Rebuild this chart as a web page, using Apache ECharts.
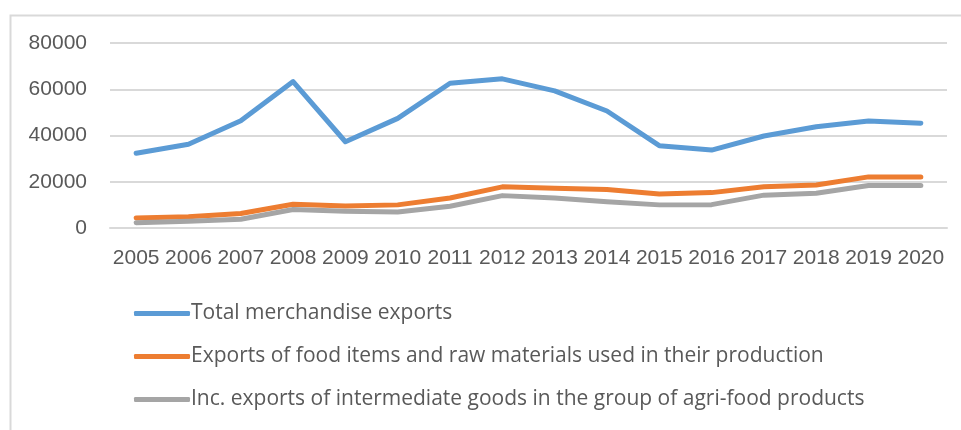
<!DOCTYPE html>
<html>
<head>
<meta charset="utf-8">
<script src="https://cdn.jsdelivr.net/npm/echarts@6/dist/echarts.min.js"></script>
<style>
  html, body { margin: 0; padding: 0; background: #fff; }
  #chartExports { width: 961px; height: 430px; }
</style>
</head>
<body>
<div id="chartExports"></div>
<script>
// ---- data ----
var years = ['2005', '2006', '2007', '2008', '2009', '2010', '2011', '2012',
    '2013', '2014', '2015', '2016', '2017', '2018', '2019', '2020'];
var totalExports = [32300, 36200, 46400, 63300, 37300, 47400, 62600, 64500,
    59300, 50600, 35600, 33700, 39800, 43800, 46300, 45300];
var foodExports = [4300, 4900, 6300, 10300, 9500, 10000, 13000, 17800,
    17200, 16600, 14700, 15300, 17800, 18600, 22100, 22100];
var agriIntermediate = [2300, 2900, 3800, 8000, 7200, 6900, 9400, 14000,
    13000, 11400, 10000, 10100, 14200, 15000, 18400, 18400];
var seriesNames = ['Total merchandise exports',
    'Exports of food items and raw materials used in their production',
    'Inc. exports of intermediate goods in the group of agri-food products'];
var yTicks = { min: 0, max: 80000, interval: 20000 };

function renderExports() {
    var dom = document.getElementById('chartExports');
    var myChart = echarts.init(dom);
    var font = 'Liberation Sans';

    function lineSeries(name, color, data) {
        return {
            name: name,
            type: 'line',
            showSymbol: false,
            symbol: 'none',
            lineStyle: { width: 5, color: color, cap: 'round', join: 'round' },
            itemStyle: { color: color },
            emphasis: { disabled: true },
            data: data
        };
    }

    var option = {
        backgroundColor: '#fff',
        animation: false,
        color: ['#5b9bd5', '#ed7d31', '#a5a5a5'],
        // chart frame (top and left edge visible)
        graphic: [{
            type: 'rect',
            left: 8,
            top: 13,
            shape: { width: 1000, height: 500 },
            style: { fill: 'none', stroke: '#d9d9d9', lineWidth: 2 },
            silent: true
        }],
        legend: {
            orient: 'vertical',
            left: 129,
            top: 298,
            itemWidth: 56,
            itemHeight: 5,
            itemGap: 22,
            icon: 'roundRect',
            textStyle: {
                fontFamily: 'Open Sans',
                fontSize: 21,
                color: '#595959',
                padding: [0, 0, 0, -4]
            },
            data: seriesNames
        },
        grid: {
            left: 110,
            right: 14,
            top: 43,
            bottom: 202,
            containLabel: false
        },
        xAxis: [{
            type: 'category',
            boundaryGap: true,
            data: years,
            axisLine: { show: true, lineStyle: { color: '#d9d9d9', width: 2 } },
            axisTick: { show: false },
            axisLabel: {
                fontFamily: font,
                fontSize: 21,
                color: '#595959',
                margin: 20,
                interval: 0
            }
        }],
        yAxis: [{
            type: 'value',
            min: yTicks.min,
            max: yTicks.max,
            interval: yTicks.interval,
            axisLine: { show: false },
            axisTick: { show: false },
            splitLine: { lineStyle: { color: '#d9d9d9', width: 2 } },
            axisLabel: {
                fontFamily: font,
                fontSize: 21,
                color: '#595959',
                margin: 23,
                formatter: function(v) { return String(v); }
            }
        }],
        series: [
            lineSeries(seriesNames[0], '#5b9bd5', totalExports),
            lineSeries(seriesNames[1], '#ed7d31', foodExports),
            lineSeries(seriesNames[2], '#a5a5a5', agriIntermediate)
        ]
    };
    if (option && typeof option === 'object') {
        myChart.setOption(option);
    }

    window.addEventListener('resize', function() {
        myChart.resize();
    });
}

renderExports();
</script>
</body>
</html>
